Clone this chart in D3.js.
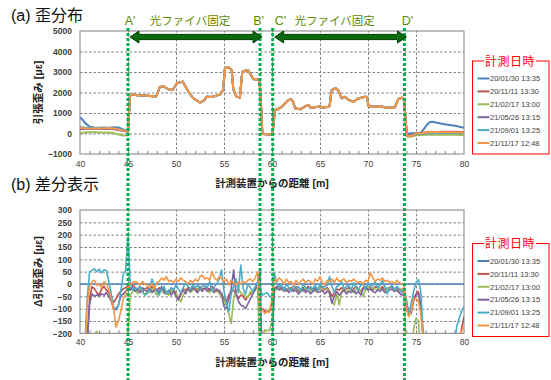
<!DOCTYPE html>
<html><head><meta charset="utf-8">
<script src="https://cdn.jsdelivr.net/npm/d3@7"></script>
<style>
body{margin:0;background:#fff}
svg{display:block}
text{font-family:"Liberation Sans","Noto Sans CJK JP",sans-serif}
</style>
</head><body>
<svg id="c" width="551" height="380"></svg>
<script>
// ---------- data ----------
const seriesNames = ["20/01/30 13:35","20/11/11 13:30","21/02/17 13:00","21/05/26 13:15","21/09/01 13:25","21/11/17 12:48"];
const seriesColors = ["#4F81BD","#C0504D","#9BBB59","#8064A2","#4BACC6","#F79646"];
const xTicks = [40,45,50,55,60,65,70,75,80];
const topYTicks = [-1000,0,1000,2000,3000,4000,5000];
const botYTicks = [-200,-150,-100,-50,0,50,100,150,200,250,300];
const fixPos = [45, 58.75, 60.07, 73.8];
const fixLabels = ["A'","B'","C'","D'"];
const fixText = "光ファイバ固定";

// top chart (a): left part (per series), fixed middle part (common), right part (per series)
const topLeftX = [40,40.25,40.5,41,41.5,42,42.5,43,43.5,44,44.5,45];
const topLeft = [
  [800,680,530,330,290,280,290,280,310,290,200,130],
  [270,265,260,250,245,240,245,240,230,200,160,100],
  [30,40,50,60,55,50,45,40,20,-50,-100,-90],
  [220,225,230,230,225,220,225,230,210,170,120,80],
  [330,310,290,280,270,260,265,270,260,220,160,110],
  [280,270,260,250,250,250,255,260,240,200,150,100]
];
const topMidX = [45.2,45.5,45.8,46.2,46.7,47.3,47.9,48.1,48.3,48.7,49.0,49.4,49.7,50.1,50.7,50.9,51.3,51.8,52.2,52.5,52.95,53.2,53.6,53.9,54.6,54.9,55.1,55.5,55.8,55.97,56.3,56.65,56.9,57.2,57.5,57.8,58.05,58.7,58.85,59.0,59.5,60.0,60.15,60.3,60.6,61.0,61.4,61.7,62.05,62.2,62.4,62.9,63.3,63.6,63.8,64.0,64.3,64.8,65.0,65.35,65.5,65.9,66.0,66.2,66.6,66.9,67.25,67.6,67.95,68.5,69.0,69.7,69.9,70.05,70.55,71.0,71.25,71.77,72.4,72.8,73.0,73.16,73.5,73.75];
const topMidV = [1850,1920,1880,1850,1850,1830,1800,2000,2260,2320,2210,2120,2160,2450,2530,2370,2040,1720,1600,1500,1630,1790,1780,1800,1910,2120,3180,3230,3100,2150,1800,1750,3000,3060,3090,2860,2660,2610,1400,-30,-40,-50,400,1150,1180,1300,1500,1630,1660,1540,1230,1180,1280,1360,1390,1260,1270,1310,1320,1250,1280,1300,1340,2100,2210,2120,1720,1790,1640,1550,1710,1790,1780,1340,1300,1320,1340,1270,1260,1280,1500,1670,1750,1680];
const topRightX = [74.05,74.3,74.6,75.0,75.5,75.8,76.1,76.4,76.7,77.2,77.8,78.5,79.2,80];
const topRight = [
  [-50,0,10,20,40,200,400,550,570,520,460,420,370,280],
  [-100,-100,-80,0,20,40,50,60,70,75,80,85,90,60],
  [-150,-160,-140,-90,-70,-60,-60,-60,-60,-55,-50,-55,-60,-80],
  [-120,-120,-100,-10,10,30,40,50,60,60,60,65,70,20],
  [-110,-120,-100,-20,-10,0,10,30,40,35,30,25,20,10],
  [-100,-130,-110,0,10,30,50,70,80,75,60,60,60,40]
];

// bottom chart (b): difference from 20/01/30 (0.25 m grid from 40 to 80)
const diffBaseX = [40,80];
const diffBase = [0,0];
const diffRed = [-500,-480,-400,-220, -60,-10,-20,-35, -45,-20,-10,-25, -35,-55,-75,-60, -40,-30,-20,-15,
 -10,-20,-5,-15, -25,-10,-34,-20, -15,-25,-10,-20, -30,-15,-25,-20, -35,-42,-30,-20,
 -40,-58,-45,-20, -25,-15,-30,-20, -15,-25,-10,-20, -20,-15,-25,-10, -20,-30,-25,-40,
 -60,-70,-45,-30, -25,-40,-60,-45, -50,-65,-50,-40, -35,-20,-15,-99, -100,-110,-112,-105,
 -80,-15,-20,-10, -25,-15,-30,-20, -15,-25,-10,-30, -20,-15,-25,-10, -20,-30,-15,-25,
 -20,-10,-25,-15, -30,-50,-35,-20, -25,-15,-30,-20, -15,-25,-20,-10, -20,-30,-15,-10,
 -20,-15,-25,-10, -15,-20,-10,-25, -20,-15,-10,-20, -15,-25,-20,-30, -100,-126,-110,-60,
 -40,-31,-80,-220, -500,-500,-500,-500, -500,-500,-500,-500, -500,-500,-500,-500, -500,-400,-250,-180,
 -133];
const diffGreen = [-600,-550,-450,-350, -280,-240,-205,-192, -215,-250,-280,-300, -320,-330,-350,-340, -320,-290,-250,-210,
 -190,-45,-30,-20, -40,-15,-30,-45, -25,-35,-20,-30, -45,-35,-25,-40, -30,-45,-25,-35,
 -40,-55,-72,-45, -30,-20,-35,-25, -20,-30,-15,-25, -20,-25,-35,-20, -30,-25,-40,-50,
 -70,-85,-120,-160, -60,-30,-20,-35, -40,-50,-55,-30, -40,-20,-15,-300, -400,-186,-190,-188,
 -150,-30,-20,-15, -25,-20,-30,-15, -20,-30,-25,-35, -20,-30,-15,-25, -35,-20,-30,-25,
 -15,-30,-25,-20, -40,-70,-85,-40, -85,-30,-20,-35, -25,-20,-35,-25, -20,-30,-51,-20,
 -10,-25,-15,-20, -25,-15,-20,-30, -15,-25,-20,-30, -25,-35,-20,-40, -300,-450,-250,-186,
 -139,-150,-300,-500, -500,-500,-500,-500, -500,-500,-500,-500, -500,-500,-500,-500, -500,-500,-500,-500,
 -500];
const diffPurple = [-500,-480,-400,-250, -80,-40,-50,-45, -50,-40,-45,-35, -50,-70,-100,-105, -85,-50,-40,-30,
 -20,-25,-15,-30, -20,-35,-15,-25, -30,-15,-35,-25, -20,-35,-10,-30, -40,-25,-45,-30,
 -50,-65,-35,-25, -40,-20,-30,-15, -25,-35,-20,-30, -15,-30,-20,-25, -35,-20,-30,-40,
 -92,-99,-60,-20, 57,-40,-70,-85, -90,-99,-80,-60, -40,-25,10,50, -400,-500,-500,-400,
 -250,-20,-10,-25, -15,-30,-20,-35, -20,-30,-25,-40, -30,-20,-35,-25, -40,-30,-20,-35,
 -30,-25,-40,-30, -35,-78,-50,-30, -45,-35,-25,-40, -30,-35,-25,-40, -30,-45,-20,-15,
 -25,-20,-30,-35, -25,-30,-20,-35, -30,-25,-20,-30, -25,-35,-45,-40, -92,-100,-120,-70,
 -45,-38,-100,-220, -500,-500,-500,-500, -500,-500,-500,-500, -500,-500,-500,-500, -500,-500,-450,-350,
 -300];
const diffTeal = [-500,-450,-250,-60, 50,55,62,50, 60,45,58,55, 10,-40,-95,-98, -90,-30,40,55,
 190,-5,-25,-15, -20,-10,-30,-45, -40,-20,20,-10, -30,-45,-20,-10, -40,-30,-15,-25,
 -5,-20,-35,-15, 5,-10,-20,-5, -15,-5,-20,-10, -5,-15,10,-30, -10,0,20,57,
 -30,-80,-112,-40, -10,20,-35,77, -20,-40,0,-15, -30,-10,5,-20, -45,-40,-35,-50,
 -55,45,0,-10, -5,-25,0,-15, -30,-5,-20,-10, -30,0,-15,-25, -10,-20,-5,-25,
 0,-15,-10,-5, 30,-10,-35,-10, -5,10,-20,-10, -5,-25,5,-15, -25,-5,0,-20,
 5,-10,-5,10, -15,-5,15,-10, -40,-15,-5,-25, -10,-20,-35,-20, -60,-120,-80,-30,
 5,18,-30,-200, -400,-500,-500,-500, -500,-500,-500,-500, -500,-500,-500,-500, -250,-170,-140,-110,
 -92];
const diffOrange = [-500,-450,-300,-80, -10,10,15,-5, 0,-15,10,0, -25,-60,-100,-175, -150,-110,-60,-40,
 -15,0,5,10, 5,-5,10,0, -5,-15,0,-20, 5,10,25,15, 30,10,15,5,
 20,10,25,15, 10,0,15,5, 20,10,30,35, 20,25,15,50, 25,15,30,20,
 10,20,-5,15, 5,-5,10,0, 10,5,15,20, 10,25,50,-110, -105,-120,-110,-115,
 -60,20,10,25, 15,0,20,5, 10,-5,15,0, 10,20,5,15, 10,0,20,10,
 30,5,-5,15, 10,20,5,25, 10,15,20,5, 15,10,20,10, 5,10,0,15,
 10,45,25,10, 20,15,25,10, 15,5,10,0, 15,5,0,-5, -100,-133,-110,-60,
 -58,-70,-120,-220, -400,-500,-500,-500, -500,-500,-500,-500, -500,-500,-500,-500, -400,-300,-230,-190,
 -173];

// ---------- build ----------
const diffGridX = d3.range(diffRed.length).map(i => 40 + i * 0.25);
const topSeries = seriesNames.map((n, i) => ({
  color: seriesColors[i],
  pts: topLeftX.map((x, j) => [x, topLeft[i][j]])
        .concat(topMidX.map((x, j) => [x, topMidV[j]]))
        .concat(topRightX.map((x, j) => [x, topRight[i][j]]))
}));
const diffArrays = [diffRed, diffGreen, diffPurple, diffTeal, diffOrange];
const botSeries = [{color: seriesColors[0], pts: diffBaseX.map((x, j) => [x, diffBase[j]])}]
  .concat(diffArrays.map((arr, i) => ({color: seriesColors[i + 1], pts: arr.map((v, j) => [diffGridX[j], v])})));

const svg = d3.select("#c");
svg.append("rect").attr("width", 551).attr("height", 380).attr("fill", "#fff");

const x = d3.scaleLinear().domain([40, 80]).range([80, 464]);
const PW = 384;

function panel(cfg) {
  const y = d3.scaleLinear().domain(cfg.domain).range([cfg.y1, cfg.y0]);
  const g = svg.append("g");
  const H = cfg.y1 - cfg.y0;
  // grid horizontal
  g.append("g").attr("transform", "translate(80,0)")
    .call(d3.axisLeft(y).tickValues(cfg.yTicks.slice(1, -1)).tickSize(-PW).tickFormat(""))
    .call(s => s.select(".domain").remove())
    .call(s => s.selectAll("line").attr("stroke", "#808080").attr("stroke-dasharray", "2.5,2"));
  // grid vertical
  g.append("g").attr("transform", `translate(0,${cfg.y1})`)
    .call(d3.axisBottom(x).tickValues(xTicks.slice(1, -1)).tickSize(-H).tickFormat(""))
    .call(s => s.select(".domain").remove())
    .call(s => s.selectAll("line").attr("stroke", "#808080").attr("stroke-dasharray", "2.5,2"));
  // minor ticks
  g.append("g").attr("transform", `translate(0,${cfg.y1})`)
    .call(d3.axisBottom(x).tickValues(d3.range(41, 80, 1)).tickSize(-3).tickFormat(""))
    .call(s => s.select(".domain").remove())
    .call(s => s.selectAll("line").attr("stroke", "#808080"));
  // frame
  g.append("rect").attr("x", 80).attr("y", cfg.y0).attr("width", PW).attr("height", H)
    .attr("fill", "none").attr("stroke", "#808080").attr("stroke-width", 1);
  // y labels
  g.append("g").attr("transform", "translate(80,0)")
    .call(d3.axisLeft(y).tickValues(cfg.yTicks).tickSize(0).tickPadding(8).tickFormat(d3.format("d")))
    .call(s => s.select(".domain").remove())
    .call(s => s.selectAll("text").attr("font-size", "8.5px").attr("font-weight", "bold")
      .attr("fill", "#404040").attr("font-family", "Liberation Sans, Arial, sans-serif"));
  // x labels
  g.append("g").attr("transform", `translate(0,${cfg.y1})`)
    .call(d3.axisBottom(x).tickValues(xTicks).tickSize(0).tickPadding(cfg.xPad))
    .call(s => s.select(".domain").remove())
    .call(s => s.selectAll("text").attr("font-size", "8.5px")
      .attr("fill", "#404040").attr("font-family", "Liberation Sans, Arial, sans-serif"));
  // titles
  g.append("text").attr("x", 272).attr("y", cfg.xTitleY).attr("text-anchor", "middle")
    .attr("font-size", "10.5px").attr("font-weight", "bold").attr("fill", "#222")
    .text("計測装置からの距離 [m]");
  g.append("text").attr("transform", `translate(42,${(cfg.y0 + cfg.y1) / 2}) rotate(-90)`)
    .attr("text-anchor", "middle").attr("font-size", "10.5px").attr("font-weight", "bold").attr("fill", "#222")
    .text(cfg.yTitle);
  // lines
  const cid = "clip" + cfg.id;
  svg.append("clipPath").attr("id", cid).append("rect")
    .attr("x", 80).attr("y", cfg.y0).attr("width", PW).attr("height", H);
  const line = d3.line().x(d => x(d[0])).y(d => y(d[1]));
  g.append("g").attr("clip-path", `url(#${cid})`).selectAll("path").data(cfg.series).join("path")
    .attr("d", d => line(d.pts)).attr("fill", "none").attr("stroke", d => d.color)
    .attr("stroke-width", cfg.lw).attr("stroke-linejoin", "round");
  // legend
  const lg = svg.append("g");
  lg.append("rect").attr("x", 472.5).attr("y", cfg.legY).attr("width", 76.5).attr("height", 93)
    .attr("fill", "#fff").attr("stroke", "#FF0000").attr("stroke-width", 1);
  lg.append("rect").attr("x", 484).attr("y", cfg.legY - 6).attr("width", 52).attr("height", 12).attr("fill", "#fff");
  lg.append("text").attr("x", 510).attr("y", cfg.legY + 4.5).attr("text-anchor", "middle")
    .attr("font-size", "12px").attr("fill", "#FF0000").attr("letter-spacing", "0.5px").text("計測日時");
  seriesNames.forEach((n, i) => {
    const yy = cfg.legY + 17.5 + i * 12.9;
    lg.append("line").attr("x1", 477.5).attr("x2", 489.5).attr("y1", yy).attr("y2", yy)
      .attr("stroke", seriesColors[i]).attr("stroke-width", 2);
    lg.append("text").attr("x", 490).attr("y", yy + 2.7).attr("font-size", "7.5px").attr("fill", "#404040")
      .attr("font-family", "Liberation Sans, Arial, sans-serif").text(n);
  });
  return y;
}

panel({id: "a", y0: 31, y1: 154, domain: [-1000, 5000], yTicks: topYTicks, series: topSeries, lw: 2,
  xPad: 7, xTitleY: 187, yTitle: "引張歪み [με]", legY: 61});
panel({id: "b", y0: 210, y1: 333.3, domain: [-200, 300], yTicks: botYTicks, series: botSeries, lw: 1.6,
  xPad: 6, xTitleY: 366, yTitle: "Δ引張歪み [με]", legY: 243.5});

// panel titles
svg.append("text").attr("x", 11).attr("y", 21).attr("font-size", "16px").attr("fill", "#111")
  .attr("font-family", "Noto Sans CJK JP, sans-serif").text("(a) 歪分布");
svg.append("text").attr("x", 11).attr("y", 190).attr("font-size", "16px").attr("fill", "#111")
  .attr("font-family", "Noto Sans CJK JP, sans-serif").text("(b) 差分表示");

// fixing section markers
const labColor = "#5E8A00";
const labAnchor = ["middle", "end", "start", "middle"];
const labDx = [2, 4, 2, 3];
fixPos.forEach((p, i) => {
  svg.append("line").attr("x1", x(p)).attr("x2", x(p)).attr("y1", 28).attr("y2", 380)
    .attr("stroke", "#00B050").attr("stroke-width", 3).attr("stroke-dasharray", "3,2");
  svg.append("text").attr("x", x(p) + labDx[i]).attr("y", 25).attr("text-anchor", labAnchor[i])
    .attr("font-size", "12.5px").attr("fill", labColor).text(fixLabels[i]);
});
[[0, 1], [2, 3]].forEach(([a, b]) => {
  const x1 = x(fixPos[a]) + 2, x2 = x(fixPos[b]) + 2, yc = 37, hb = 2.6, hh = 6, hl = 9;
  const pts = [[x1, yc], [x1 + hl, yc - hh], [x1 + hl, yc - hb], [x2 - hl, yc - hb], [x2 - hl, yc - hh],
               [x2, yc], [x2 - hl, yc + hh], [x2 - hl, yc + hb], [x1 + hl, yc + hb], [x1 + hl, yc + hh]];
  svg.append("polygon").attr("points", pts.map(p => p.join(",")).join(" "))
    .attr("fill", "#0B6A0B").attr("stroke", "#033D03").attr("stroke-width", 1);
  svg.append("text").attr("x", (x(fixPos[a]) + x(fixPos[b])) / 2 - 4).attr("y", 25).attr("text-anchor", "middle")
    .attr("font-size", "11.5px").attr("fill", labColor).text(fixText);
});
</script>
</body></html>
